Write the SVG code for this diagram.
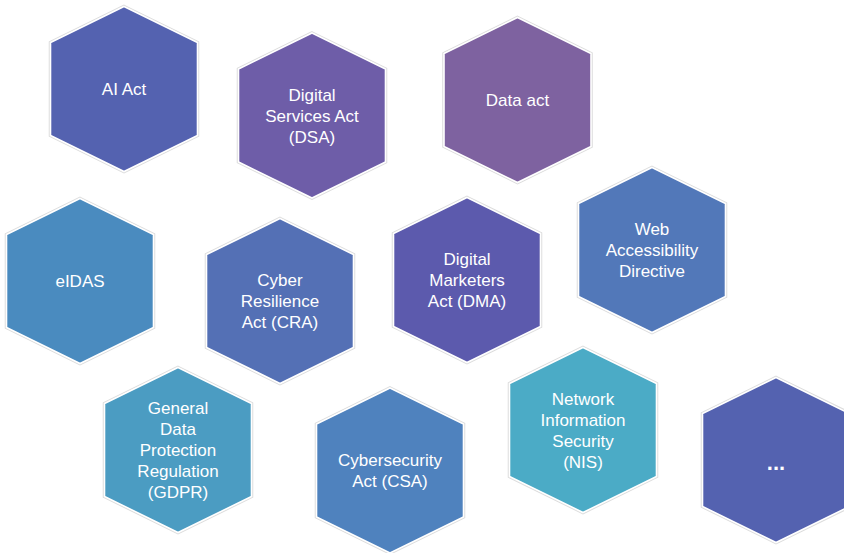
<svg xmlns="http://www.w3.org/2000/svg" xmlns:xlink="http://www.w3.org/1999/xlink" width="844" height="553" viewBox="0 0 844 553">
<style>
.halo{fill:none;stroke:#dcdcdc;stroke-width:3.5}
.edge{stroke:#ffffff;stroke-width:1.6}
.lbl{font-family:"Liberation Sans",Arial,sans-serif;font-size:17px;fill:#ffffff;text-anchor:middle}
</style>
<defs>
<polygon id="hex" points="0,-82.5 73.5,-46.5 73.5,46.5 0,82.5 -73.5,46.5 -73.5,-46.5"/>
</defs>
<rect width="844" height="553" fill="#ffffff"/>
<g id="connectors"/>
<g id="ai-act" transform="translate(124,89)">
<use href="#hex" class="halo"/><use href="#hex" class="edge" fill="#5462b0"/>
<text class="lbl" y="6">AI Act</text>
</g>
<g id="dsa" transform="translate(312,115.5)">
<use href="#hex" class="halo"/><use href="#hex" class="edge" fill="#6e5da8"/>
<text class="lbl"><tspan x="0" y="-15">Digital</tspan><tspan x="0" y="6">Services Act</tspan><tspan x="0" y="27">(DSA)</tspan></text>
</g>
<g id="data-act" transform="translate(517.5,100)">
<use href="#hex" class="halo"/><use href="#hex" class="edge" fill="#7e62a0"/>
<text class="lbl" y="6">Data act</text>
</g>
<g id="eidas" transform="translate(80,281)">
<use href="#hex" class="halo"/><use href="#hex" class="edge" fill="#4a8bbf"/>
<text class="lbl" y="6">eIDAS</text>
</g>
<g id="cra" transform="translate(280,301)">
<use href="#hex" class="halo"/><use href="#hex" class="edge" fill="#5470b5"/>
<text class="lbl"><tspan x="0" y="-15">Cyber</tspan><tspan x="0" y="6">Resilience</tspan><tspan x="0" y="27">Act (CRA)</tspan></text>
</g>
<g id="dma" transform="translate(467,280)">
<use href="#hex" class="halo"/><use href="#hex" class="edge" fill="#5c5aad"/>
<text class="lbl"><tspan x="0" y="-15">Digital</tspan><tspan x="0" y="6">Marketers</tspan><tspan x="0" y="27">Act (DMA)</tspan></text>
</g>
<g id="wad" transform="translate(652,250)">
<use href="#hex" class="halo"/><use href="#hex" class="edge" fill="#5278b9"/>
<text class="lbl"><tspan x="0" y="-15">Web</tspan><tspan x="0" y="6">Accessibility</tspan><tspan x="0" y="27">Directive</tspan></text>
</g>
<g id="gdpr" transform="translate(178,450)">
<use href="#hex" class="halo"/><use href="#hex" class="edge" fill="#4b9cc2"/>
<text class="lbl"><tspan x="0" y="-36">General</tspan><tspan x="0" y="-15">Data</tspan><tspan x="0" y="6">Protection</tspan><tspan x="0" y="27">Regulation</tspan><tspan x="0" y="48">(GDPR)</tspan></text>
</g>
<g id="csa" transform="translate(390,470.5)">
<use href="#hex" class="halo"/><use href="#hex" class="edge" fill="#4f82be"/>
<text class="lbl"><tspan x="0" y="-4.5">Cybersecurity</tspan><tspan x="0" y="16.5">Act (CSA)</tspan></text>
</g>
<g id="nis" transform="translate(583,430)">
<use href="#hex" class="halo"/><use href="#hex" class="edge" fill="#4babc6"/>
<text class="lbl"><tspan x="0" y="-25.5">Network</tspan><tspan x="0" y="-4.5">Information</tspan><tspan x="0" y="16.5">Security</tspan><tspan x="0" y="37.5">(NIS)</tspan></text>
</g>
<g id="more" transform="translate(776,460)">
<use href="#hex" class="halo"/><use href="#hex" class="edge" fill="#5462b0"/>
<text class="lbl" y="10" style="font-weight:bold;font-size:22px">...</text>
</g>
</svg>
